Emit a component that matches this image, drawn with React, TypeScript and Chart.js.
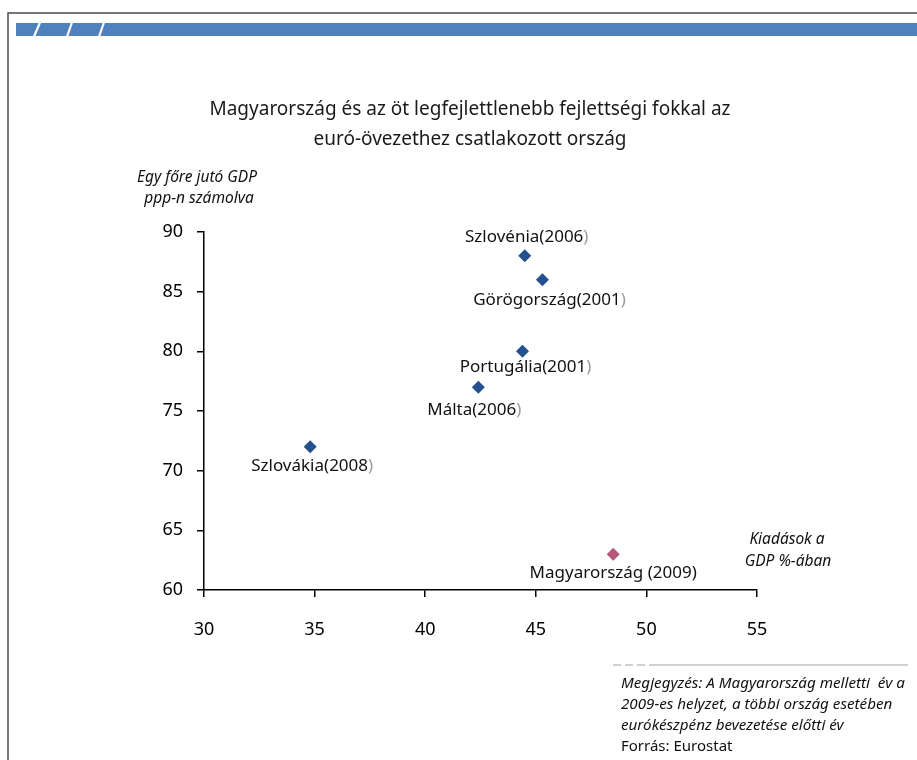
import React, { useEffect, useRef } from "react";
import { Chart, registerables } from "chart.js";

Chart.register(...registerables);

const countries = ["Szlovénia", "Görögország", "Portugália", "Málta", "Szlovákia", "Magyarország"];
const years = ["2006", "2001", "2001", "2006", "2008", "2009"];
const spendingPct = [44.5, 45.3, 44.4, 42.4, 34.8, 48.5];
const gdpPerCapita = [88, 86, 80, 77, 72, 63];
const xRange = [30, 55];
const yRange = [60, 90];
const tickStep = 5;

const titleLines = [
  "Magyarország és az öt legfejlettlenebb fejlettségi fokkal az",
  "euró-övezethez csatlakozott ország",
];
const yAxisTitle = ["Egy főre jutó GDP", "ppp-n számolva"];
const xAxisTitle = ["Kiadások a", "GDP %-ában"];
const noteLines = [
  "Megjegyzés: A Magyarország melletti  év a",
  "2009-es helyzet, a többi ország esetében",
  "eurókészpénz bevezetése előtti év",
];
const sourceLine = "Forrás: Eurostat";

// label placement offsets relative to each marker (style only)
const labelOffsets = [
  [2, -19],
  [7, 20],
  [3, 16],
  [-4, 23],
  [2, 19],
  [0, 19],
];

const FONT = "'Noto Sans', 'Open Sans', sans-serif";
const BLUE = "#24508D";
const PINK = "#B5577C";

const decorPlugin = {
  id: "decor",
  afterDraw(chart: any) {
    const ctx = chart.ctx as CanvasRenderingContext2D;
    const W = chart.width;
    const H = chart.height;
    ctx.save();
    // frame
    ctx.strokeStyle = "#4a4a4a";
    ctx.lineWidth = 1.5;
    ctx.beginPath();
    ctx.moveTo(8, H);
    ctx.lineTo(8, 13);
    ctx.lineTo(W, 13);
    ctx.stroke();
    // blue band
    ctx.fillStyle = "#4F81BD";
    ctx.fillRect(16, 23, W - 16, 13);
    ctx.strokeStyle = "#ffffff";
    ctx.lineWidth = 2.2;
    [[34, 40], [67, 72], [99, 104]].forEach(([b, t]) => {
      ctx.beginPath();
      ctx.moveTo(b, 36.5);
      ctx.lineTo(t, 22.5);
      ctx.stroke();
    });

    // title
    ctx.fillStyle = "#1a1a1a";
    ctx.font = `19px ${FONT}`;
    ctx.textAlign = "center";
    ctx.textBaseline = "middle";
    ctx.fillText(titleLines[0], 470, 110);
    ctx.fillText(titleLines[1], 470, 140);

    // axis titles
    ctx.font = `italic 15.5px ${FONT}`;
    ctx.fillStyle = "#111";
    ctx.fillText(yAxisTitle[0], 197, 178);
    ctx.fillText(yAxisTitle[1], 199, 199);
    ctx.fillText(xAxisTitle[0], 787, 540);
    ctx.fillText(xAxisTitle[1], 788, 562);

    // point labels
    ctx.font = `17px ${FONT}`;
    ctx.textAlign = "left";
    chart.data.datasets.forEach((ds: any, di: number) => {
      const meta = chart.getDatasetMeta(di);
      meta.data.forEach((pt: any, pi: number) => {
        const i = ds.sourceIndex[pi];
        const sep = countries[i] === "Magyarország" ? " (" : "(";
        const main = countries[i] + sep + years[i];
        const close = ")";
        const w1 = ctx.measureText(main).width;
        const w2 = ctx.measureText(close).width;
        const cx = pt.x + labelOffsets[i][0];
        const cy = pt.y + labelOffsets[i][1];
        const sx = cx - (w1 + w2) / 2;
        ctx.fillStyle = "#111";
        ctx.fillText(main, sx, cy);
        ctx.fillStyle = i === 5 ? "#111" : "#9a9a9a";
        ctx.fillText(close, sx + w1, cy);
      });
    });

    // note separator
    ctx.strokeStyle = "#d0d0d0";
    ctx.lineWidth = 2;
    ctx.setLineDash([8, 4]);
    ctx.beginPath();
    ctx.moveTo(613, 665);
    ctx.lineTo(650, 665);
    ctx.stroke();
    ctx.setLineDash([]);
    ctx.beginPath();
    ctx.moveTo(650, 665);
    ctx.lineTo(908, 665);
    ctx.stroke();

    // note
    ctx.fillStyle = "#111";
    ctx.font = `italic 15.2px ${FONT}`;
    ctx.textAlign = "left";
    ctx.fillText(noteLines[0], 621, 684);
    ctx.fillText(noteLines[1], 621, 705);
    ctx.fillText(noteLines[2], 621, 726);
    ctx.font = `15px ${FONT}`;
    ctx.fillText(sourceLine, 621, 747);
    ctx.restore();
  },
};

export default function App() {
  const ref = useRef<HTMLCanvasElement | null>(null);
  useEffect(() => {
    if (!ref.current) return;
    const euroIdx = [0, 1, 2, 3, 4];
    const huIdx = [5];
    const chart = new Chart(ref.current, {
      type: "scatter",
      data: {
        datasets: [
          {
            label: "euro",
            data: euroIdx.map((i) => ({ x: spendingPct[i], y: gdpPerCapita[i] })),
            sourceIndex: euroIdx,
            pointStyle: "rectRot",
            pointRadius: 6.5,
            pointBackgroundColor: BLUE,
            pointBorderColor: BLUE,
            pointBorderWidth: 0,
          } as any,
          {
            label: "hu",
            data: huIdx.map((i) => ({ x: spendingPct[i], y: gdpPerCapita[i] })),
            sourceIndex: huIdx,
            pointStyle: "rectRot",
            pointRadius: 6.5,
            pointBackgroundColor: PINK,
            pointBorderColor: PINK,
            pointBorderWidth: 0,
          } as any,
        ],
      },
      options: {
        responsive: false,
        animation: false,
        devicePixelRatio: 1,
        layout: { padding: { top: 232, right: 160, left: 0, bottom: 0 } },
        plugins: { legend: { display: false }, tooltip: { enabled: false } },
        scales: {
          x: {
            type: "linear",
            min: xRange[0],
            max: xRange[1],
            ticks: { stepSize: tickStep, color: "#000", font: { size: 18, family: FONT }, padding: 22 },
            grid: { drawOnChartArea: false, drawTicks: true, tickLength: 7, color: "#000", lineWidth: 1.5 },
            border: { color: "#000", width: 1.5 },
            afterFit: (s: any) => {
              s.height = 170;
            },
          },
          y: {
            type: "linear",
            min: yRange[0],
            max: yRange[1],
            ticks: { stepSize: tickStep, color: "#000", font: { size: 18, family: FONT }, padding: 14 },
            grid: { drawOnChartArea: false, drawTicks: true, tickLength: 7, color: "#000", lineWidth: 1.5 },
            border: { color: "#000", width: 1.5 },
            afterFit: (s: any) => {
              s.width = 204;
            },
          },
        },
      },
      plugins: [decorPlugin],
    });
    return () => chart.destroy();
  }, []);
  return (
    <div style={{ position: "absolute", left: 0, top: 0, width: 917, height: 760, background: "#fff" }}>
      <canvas ref={ref} width={917} height={760} style={{ width: 917, height: 760, display: "block" }} />
    </div>
  );
}
